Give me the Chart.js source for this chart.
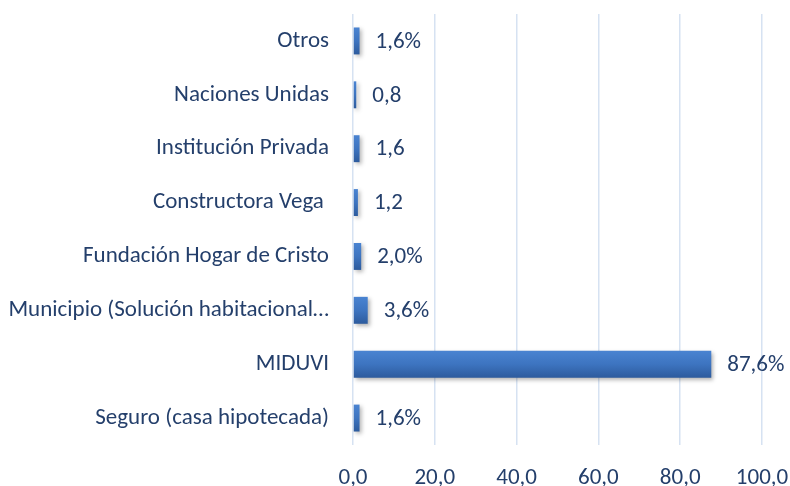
<!DOCTYPE html>
<html>
<head>
<meta charset="utf-8">
<script src="https://cdn.jsdelivr.net/npm/chart.js@4.4.1/dist/chart.umd.min.js"></script>
<style>
  html, body { margin: 0; padding: 0; background: #ffffff; }
  #wrap { width: 790px; height: 486px; }
</style>
</head>
<body>
<div id="wrap"><canvas id="c" width="790" height="486"></canvas></div>
<script>
const categories = [
  "Otros",
  "Naciones Unidas",
  "Institución Privada",
  "Constructora Vega ",
  "Fundación Hogar de Cristo",
  "Municipio (Solución habitacional…",
  "MIDUVI",
  "Seguro (casa hipotecada)"
];
const values = [1.6, 0.8, 1.6, 1.2, 2.0, 3.6, 87.6, 1.6];
const valueLabels = ["1,6%", "0,8", "1,6", "1,2", "2,0%", "3,6%", "87,6%", "1,6%"];
const xTicks = [0, 20, 40, 60, 80, 100];

const TEXT = '#243F6B';
const FONT = 'Carlito, Lato, "Liberation Sans", sans-serif';
const FSIZE = 23;

const valueLabelPlugin = {
  id: 'valueLabels',
  afterDatasetsDraw(chart) {
    const ctx = chart.ctx;
    const meta = chart.getDatasetMeta(0);
    ctx.save();
    ctx.font = FSIZE + 'px ' + FONT;
    ctx.fillStyle = TEXT;
    ctx.textAlign = 'left';
    ctx.textBaseline = 'middle';
    meta.data.forEach((bar, i) => {
      ctx.fillText(valueLabels[i], bar.x + 16, bar.y + 1);
    });
    ctx.restore();
  }
};

const shadowPlugin = {
  id: 'barShadow',
  beforeDatasetsDraw(chart) {
    const ctx = chart.ctx;
    ctx.save();
    ctx.shadowColor = 'rgba(0,0,0,0.3)';
    ctx.shadowBlur = 4;
    ctx.shadowOffsetX = 2;
    ctx.shadowOffsetY = 2;
  },
  afterDatasetsDraw(chart) {
    chart.ctx.restore();
  }
};

new Chart(document.getElementById('c'), {
  type: 'bar',
  data: {
    labels: categories,
    datasets: [{
      data: values,
      backgroundColor: (c) => {
        const chart = c.chart;
        const ys = chart.scales.y;
        if (!ys || c.dataIndex === undefined) return '#3B70BC';
        const cy = ys.getPixelForValue(c.dataIndex);
        if (!isFinite(cy)) return '#3B70BC';
        const g = chart.ctx.createLinearGradient(0, cy - 14, 0, cy + 14);
        g.addColorStop(0, '#4A84D2');
        g.addColorStop(0.5, '#3D74C0');
        g.addColorStop(1, '#2C5A9C');
        return g;
      },
      borderWidth: 0,
      barPercentage: 0.5,
      categoryPercentage: 1.0
    }]
  },
  options: {
    indexAxis: 'y',
    responsive: false,
    animation: false,
    devicePixelRatio: 1,
    layout: { padding: { top: 14, bottom: 0, left: 0, right: 28 } },
    plugins: {
      legend: { display: false },
      tooltip: { enabled: false }
    },
    scales: {
      x: {
        min: 0,
        max: 100,
        afterBuildTicks: (s) => { s.ticks = xTicks.map(v => ({ value: v })); },
        afterFit: (s) => { s.height = 41; s.paddingRight = 0; s.paddingLeft = 0; },
        ticks: {
          color: TEXT,
          font: { family: FONT, size: FSIZE },
          padding: 19,
          maxRotation: 0,
          callback: (v) => Number(v).toFixed(1).replace('.', ',')
        },
        grid: { color: '#D6E2F2', lineWidth: 1.5, drawTicks: false },
        border: { display: false }
      },
      y: {
        afterFit: (s) => { s.width = 353; },
        ticks: {
          color: TEXT,
          font: { family: FONT, size: FSIZE },
          padding: 0
        },
        grid: { display: false, drawTicks: true, tickLength: 24, tickColor: 'rgba(0,0,0,0)' },
        border: { display: false }
      }
    }
  },
  plugins: [shadowPlugin, valueLabelPlugin]
});
</script>
</body>
</html>
